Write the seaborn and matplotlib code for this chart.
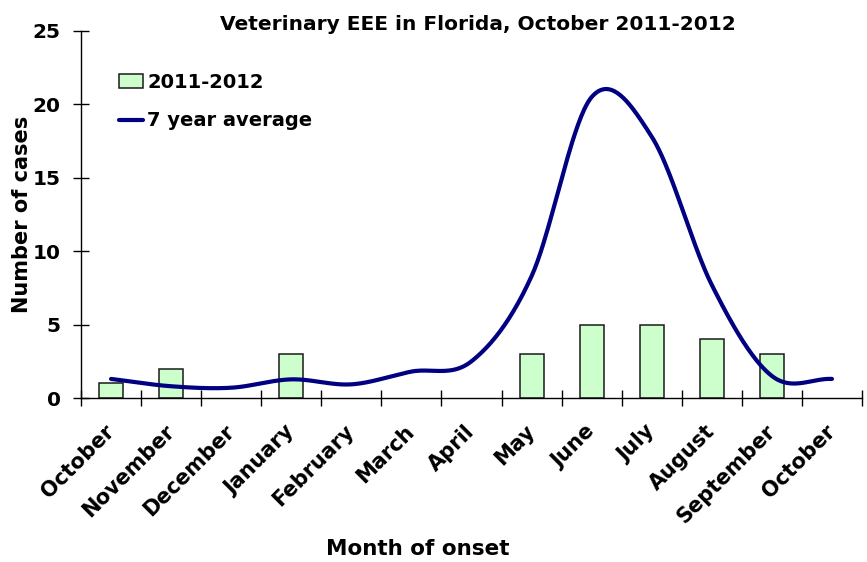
import numpy as np
import pandas as pd
import seaborn as sns
import matplotlib
matplotlib.use("Agg")
import matplotlib.pyplot as plt

# values
months = ["October", "November", "December", "January", "February", "March",
          "April", "May", "June", "July", "August", "September", "October"]
cases_2011_2012 = [1, 2, 0, 3, 0, 0, 0, 3, 5, 5, 4, 3, 0]
avg_7yr = [1.3, 0.8, 0.7, 1.27, 0.93, 1.8, 2.5, 8.3, 20.5, 17.8, 7.7, 1.5, 1.3]


def smooth_line(y, n=40):
    # Excel-style smoothed line (Catmull-Rom through the points)
    y = np.asarray(y, dtype=float)
    m = np.zeros_like(y)
    m[1:-1] = (y[2:] - y[:-2]) / 2
    m[0] = y[1] - y[0]
    m[-1] = y[-1] - y[-2]
    xs, ys = [], []
    for i in range(len(y) - 1):
        t = np.linspace(0, 1, n, endpoint=(i == len(y) - 2))
        h00 = 2 * t**3 - 3 * t**2 + 1
        h10 = t**3 - 2 * t**2 + t
        h01 = -2 * t**3 + 3 * t**2
        h11 = t**3 - t**2
        xs.append(i + t)
        ys.append(h00 * y[i] + h10 * m[i] + h01 * y[i + 1] + h11 * m[i + 1])
    return np.concatenate(xs), np.concatenate(ys)


sns.set_theme(style="ticks")
plt.rcParams['font.family'] = ['DejaVu Sans']
plt.rcParams['font.weight'] = 'bold'
plt.rcParams['axes.labelweight'] = 'bold'
for k in ['text.color', 'axes.labelcolor', 'xtick.color', 'ytick.color']:
    plt.rcParams[k] = 'black'

df = pd.DataFrame({"pos": range(len(months)), "cases": cases_2011_2012})

fig = plt.figure(figsize=(8.67, 5.62), dpi=100)
ax = fig.add_axes([81 / 867, 1 - 398 / 562, 781 / 867, 367 / 562])

sns.barplot(data=df, x="pos", y="cases", width=0.4, color="#CCFFCC",
            saturation=1, edgecolor="#1a1a1a", linewidth=1.1,
            label="2011-2012", ax=ax)
# empty months get no outline
for bar, v in zip(ax.containers[0], cases_2011_2012):
    if v == 0:
        bar.set_visible(False)

sx, sy = smooth_line(avg_7yr)
sns.lineplot(x=sx, y=sy, sort=False, color="#000080", linewidth=3,
             label="7 year average", ax=ax)

ax.set_xlim(-0.5, len(months) - 0.5)
ax.set_ylim(0, 25)
ax.set_yticks(range(0, 26, 5))
ax.tick_params(axis='y', direction='inout', length=11.5, width=1, pad=9,
               labelsize=14.5)

ax.set_xticks(range(len(months)))
ax.set_xticklabels(months, rotation=45, ha='right', va='center',
                   rotation_mode='anchor', fontsize=15, fontweight='bold')
ax.tick_params(axis='x', which='major', length=0, pad=22)
ax.set_xticks(np.arange(-0.5, len(months)), minor=True)
ax.tick_params(axis='x', which='minor', direction='inout', length=11.5, width=1)

for s in ["top", "right"]:
    ax.spines[s].set_visible(False)
for s in ["left", "bottom"]:
    ax.spines[s].set_color("black")
    ax.spines[s].set_linewidth(1)

ax.set_xlabel("Month of onset", fontsize=15.5, fontweight='bold')
ax.xaxis.label.set_va('center')
ax.xaxis.set_label_coords((418 - 81) / 781, (398 - 549) / 367)
ax.set_ylabel("Number of cases", fontsize=15, fontweight='bold')
ax.yaxis.label.set_va('center')
ax.yaxis.set_label_coords((22 - 81) / 781, 0.5)

fig.text(478 / 867, 1 - 24 / 562, "Veterinary EEE in Florida, October 2011-2012",
         ha='center', va='center', fontsize=14.5, fontweight='bold')

handles, labels = ax.get_legend_handles_labels()
order = [labels.index("2011-2012"), labels.index("7 year average")]
ax.legend([handles[i] for i in order], [labels[i] for i in order],
          loc='upper left', bbox_to_anchor=((119 - 81) / 781, (398 - 73) / 367),
          frameon=False, borderpad=0, borderaxespad=0, fontsize=14,
          handlelength=1.25, handletextpad=0.2, labelspacing=1.0)

fig.savefig("out.png", dpi=100)
